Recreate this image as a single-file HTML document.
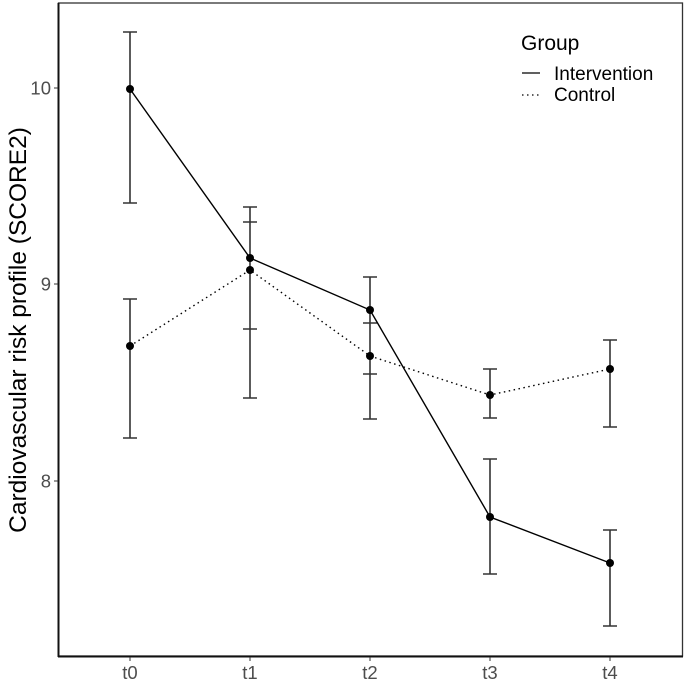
<!DOCTYPE html>
<html><head><meta charset="utf-8"><style>body{margin:0;background:#fff}svg{display:block}</style></head><body>
<svg width="685" height="681" xmlns="http://www.w3.org/2000/svg" font-family="Liberation Sans, sans-serif">
<rect x="58.5" y="3" width="624" height="653" fill="#fff" stroke="#333" stroke-width="1.3"/>
<line x1="58" y1="656.5" x2="683" y2="656.5" stroke="#111" stroke-width="2"/>
<line x1="58.5" y1="3" x2="58.5" y2="657" stroke="#111" stroke-width="2"/>
<g stroke="#333" stroke-width="1">
<line x1="54" y1="88" x2="58" y2="88"/><line x1="54" y1="284" x2="58" y2="284"/><line x1="54" y1="481" x2="58" y2="481"/>
<line x1="130" y1="657" x2="130" y2="661"/><line x1="250" y1="657" x2="250" y2="661"/><line x1="370" y1="657" x2="370" y2="661"/><line x1="490" y1="657" x2="490" y2="661"/><line x1="610" y1="657" x2="610" y2="661"/>
</g>
<g fill="#4d4d4d" font-size="18.5" text-anchor="end">
<text x="51" y="94.5">10</text><text x="51" y="290.5">9</text><text x="51" y="487.5">8</text>
</g>
<g fill="#4d4d4d" font-size="18.5" text-anchor="middle">
<text x="130" y="679">t0</text><text x="250" y="679">t1</text><text x="370" y="679">t2</text><text x="490" y="679">t3</text><text x="610" y="679">t4</text>
</g>
<text transform="translate(26,330) rotate(-90)" text-anchor="middle" font-size="24.5" fill="#000">Cardiovascular risk profile (SCORE2)</text>
<g stroke="#333" stroke-width="1.6" fill="none">
<path d="M130 32V203M123 32H137M123 203H137"/>
<path d="M130 299V438M123 299H137M123 438H137"/>
<path d="M250 207V398M243 207H257M243 398H257M243 222H257M243 329H257"/>
<path d="M370 277V419M363 277H377M363 323H377M363 374H377M363 419H377"/>
<path d="M490 369V418M483 369H497M483 418H497"/>
<path d="M490 459V574M483 459H497M483 574H497"/>
<path d="M610 340V427M603 340H617M603 427H617"/>
<path d="M610 530V626M603 530H617M603 626H617"/>
</g>
<polyline points="130,89 250,258 370,310 490,517 610,563" fill="none" stroke="#000" stroke-width="1.4"/>
<polyline points="130,346 250,270 370,356 490,395 610,369" fill="none" stroke="#000" stroke-width="1.4" stroke-dasharray="1.5,3.5"/>
<g fill="#000">
<circle cx="130" cy="89" r="4"/><circle cx="250" cy="258" r="4"/><circle cx="370" cy="310" r="4"/><circle cx="490" cy="517" r="4"/><circle cx="610" cy="563" r="4"/>
<circle cx="130" cy="346" r="4"/><circle cx="250" cy="270" r="4"/><circle cx="370" cy="356" r="4"/><circle cx="490" cy="395" r="4"/><circle cx="610" cy="369" r="4"/>
</g>
<text x="521" y="50" font-size="21" fill="#000">Group</text>
<line x1="522" y1="73" x2="540" y2="73" stroke="#000" stroke-width="1.3"/>
<line x1="522" y1="95" x2="540" y2="95" stroke="#000" stroke-width="1.3" stroke-dasharray="1.5,3.5"/>
<text x="554" y="80" font-size="19" fill="#000">Intervention</text>
<text x="554" y="101" font-size="19" fill="#000">Control</text>
</svg>
</body></html>
